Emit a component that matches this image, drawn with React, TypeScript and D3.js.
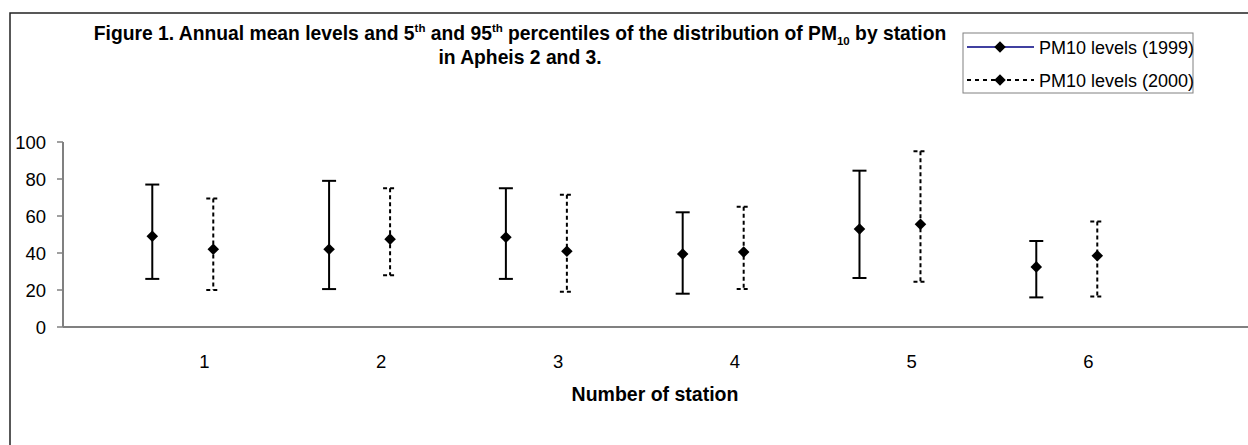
import * as d3 from "d3";

// station numbers on the x axis
const stations = [1, 2, 3, 4, 5, 6];

// PM10 annual means and 5th / 95th percentiles
const mean1999 = [49, 42, 48.5, 39.5, 53, 32.5];
const p5_1999 = [26, 20.5, 26, 18, 26.5, 16];
const p95_1999 = [77, 79, 75, 62, 84.5, 46.5];

const mean2000 = [42, 47.5, 41, 40.5, 55.5, 38.5];
const p5_2000 = [20, 28, 19, 20.5, 24.5, 16.5];
const p95_2000 = [69.5, 75, 71.5, 65, 95, 57];

const yTicks = [0, 20, 40, 60, 80, 100];
const legendLabels = ["PM10 levels (1999)", "PM10 levels (2000)"];

const W = 1248;
const H = 445;
const FONT = "Arial, 'Liberation Sans', sans-serif";

export default function App() {
  const x = d3.scaleLinear().domain([0.2, 7]).range([63, 63 + 6.8 * 176.8]);
  const y = d3.scaleLinear().domain([0, 100]).range([327, 142]);

  const series = [
    { mean: mean1999, lo: p5_1999, hi: p95_1999, offset: -0.295, dash: undefined as string | undefined },
    { mean: mean2000, lo: p5_2000, hi: p95_2000, offset: 0.05, dash: "4,3" },
  ];

  const diamond = d3.symbol().type(d3.symbolDiamond2).size(85);

  return (
    <svg
      width={W}
      height={H}
      style={{ position: "absolute", left: 0, top: 0, fontFamily: FONT }}
    >
      <rect x={0} y={0} width={W} height={H} fill="#fff" />
      {/* chart area border */}
      <path d={`M10,${H} V13 H${W}`} fill="none" stroke="#222" strokeWidth={1.5} />

      {/* title */}
      <text x={520} y={40} textAnchor="middle" fontWeight="bold" fontSize={19.3}>
        Figure 1. Annual mean levels and 5
        <tspan fontSize={11.5} dy={-8}>th</tspan>
        <tspan dy={8}> and 95</tspan>
        <tspan fontSize={11.5} dy={-8}>th</tspan>
        <tspan dy={8}> percentiles of the distribution of PM</tspan>
        <tspan fontSize={11.5} dy={5}>10</tspan>
        <tspan dy={-5}> by station</tspan>
      </text>
      <text x={520} y={64} textAnchor="middle" fontWeight="bold" fontSize={19.3}>
        in Apheis 2 and 3.
      </text>

      {/* y axis */}
      <line x1={63} x2={63} y1={y(100)} y2={y(0)} stroke="#808080" strokeWidth={2} />
      {yTicks.map((t) => (
        <g key={t}>
          <line x1={57} x2={63} y1={y(t)} y2={y(t)} stroke="#808080" strokeWidth={1.5} />
          <text x={46} y={y(t) + 6.5} textAnchor="end" fontSize={18.5}>
            {t}
          </text>
        </g>
      ))}

      {/* x axis */}
      <line x1={63} x2={W} y1={y(0)} y2={y(0)} stroke="#808080" strokeWidth={2} />
      {stations.map((s) => (
        <text key={s} x={x(s)} y={368} textAnchor="middle" fontSize={18.5}>
          {s}
        </text>
      ))}
      <text x={655} y={401} textAnchor="middle" fontWeight="bold" fontSize={19.5}>
        Number of station
      </text>

      {/* error bars and means */}
      {series.map((sr, si) =>
        stations.map((s, i) => {
          const cx = x(s + sr.offset);
          return (
            <g key={`${si}-${s}`}>
              <line
                x1={cx}
                x2={cx}
                y1={y(sr.hi[i])}
                y2={y(sr.lo[i])}
                stroke="#000"
                strokeWidth={2}
                strokeDasharray={sr.dash}
              />
              {[sr.hi[i], sr.lo[i]].map((v, k) => (
                <line
                  key={k}
                  x1={cx - 7}
                  x2={cx + 7}
                  y1={y(v)}
                  y2={y(v)}
                  stroke="#000"
                  strokeWidth={2}
                  strokeDasharray={sr.dash}
                />
              ))}
              <path d={diamond() ?? ""} transform={`translate(${cx},${y(sr.mean[i])})`} fill="#000" />
            </g>
          );
        })
      )}

      {/* legend */}
      <rect x={963} y={33} width={230} height={60} fill="#fff" stroke="#808080" strokeWidth={1} />
      {legendLabels.map((lab, i) => {
        const ly = 47 + i * 33;
        return (
          <g key={lab}>
            <line
              x1={967}
              x2={1034}
              y1={ly}
              y2={ly}
              stroke={i === 0 ? "#000080" : "#000"}
              strokeWidth={i === 0 ? 1.5 : 2}
              strokeDasharray={i === 0 ? undefined : "4,4"}
            />
            <path d={diamond() ?? ""} transform={`translate(1000,${ly})`} fill="#000" />
            <text x={1039} y={ly + 6.5} fontSize={18}>
              {lab}
            </text>
          </g>
        );
      })}
    </svg>
  );
}
